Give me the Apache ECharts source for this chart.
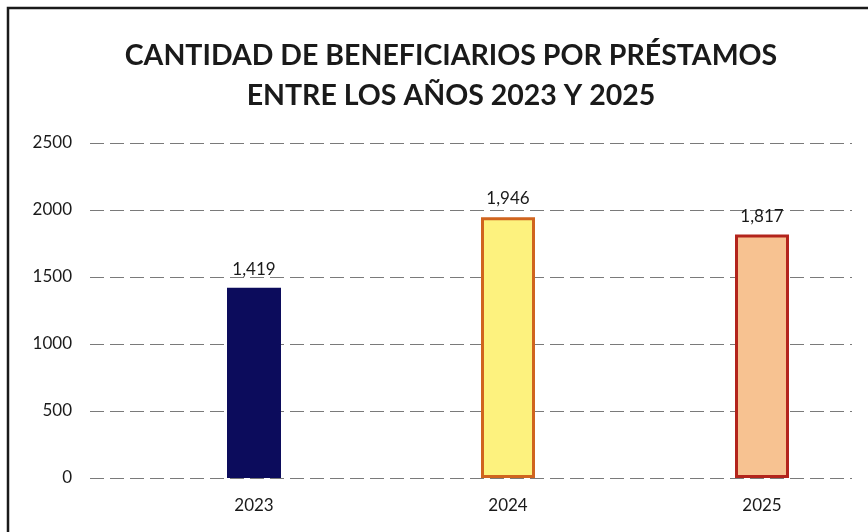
<!DOCTYPE html>
<html>
<head>
<meta charset="utf-8">
<style>
  html, body { margin: 0; padding: 0; background: #fff; }
  #chart { width: 868px; height: 532px; }
</style>
<script src="https://cdn.jsdelivr.net/npm/echarts@6/dist/echarts.min.js"></script>
</head>
<body>
<div id="chart"></div>
<script>
// datos
const years = ['2023', '2024', '2025']
const beneficiarios = [1419, 1946, 1817]
const yTicks = [0, 500, 1000, 1500, 2000, 2500]

const barFill = ['#0c0c5c', '#fdf27e', '#f7c291']
const barBorder = ['#0c0c5c', '#d0641e', '#b3241c']

const chart = echarts.init(document.getElementById('chart'))
const font = 'Lato, "Open Sans", sans-serif'

chart.setOption({
  backgroundColor: '#fff',
  animation: false,
  title: {
    text: 'CANTIDAD DE BENEFICIARIOS POR PRÉSTAMOS\nENTRE LOS AÑOS 2023 Y 2025',
    left: 446,
    textAlign: 'center',
    top: 31,
    textStyle: {
      color: '#1a1a1a',
      fontFamily: font,
      fontWeight: 'bold',
      fontSize: 28.5,
      lineHeight: 40
    }
  },
  graphic: [{
    type: 'rect',
    shape: { x: 8, y: 8, width: 900, height: 600 },
    style: { fill: 'none', stroke: '#1a1a1a', lineWidth: 2.5 },
    silent: true
  }],
  grid: [
    { left: 90, right: 16, top: 143, bottom: 54 },
    // las barras van algo corridas a la derecha en el original
    { left: 254, right: 106, top: 143, bottom: 54 }
  ],
  xAxis: [
    {
      gridIndex: 0,
      type: 'category',
      data: years,
      show: false
    },
    {
      gridIndex: 1,
      type: 'category',
      data: years,
      boundaryGap: false,
      axisLine: { show: false },
      axisTick: { show: false },
      splitLine: { show: false },
      axisLabel: {
        color: '#1a1a1a',
        fontFamily: font,
        fontSize: 17,
        margin: 19
      }
    }
  ],
  yAxis: [
    {
      gridIndex: 0,
      type: 'value',
      min: yTicks[0],
      max: yTicks[yTicks.length - 1],
      interval: 500,
      axisLine: { show: false },
      axisTick: { show: false },
      axisLabel: {
        color: '#1a1a1a',
        fontFamily: font,
        fontSize: 17,
        margin: 18,
        formatter: v => String(v)
      },
      splitLine: {
        lineStyle: { color: '#7a7a7a', type: [14, 6], width: 1.2 }
      }
    },
    {
      gridIndex: 1,
      type: 'value',
      min: yTicks[0],
      max: yTicks[yTicks.length - 1],
      interval: 500,
      show: false,
      splitLine: { show: false }
    }
  ],
  series: [{
    type: 'bar',
    xAxisIndex: 1,
    yAxisIndex: 1,
    clip: false,
    barWidth: 54,
    data: beneficiarios.map((v, i) => ({
      value: v,
      itemStyle: {
        color: barFill[i],
        borderColor: barBorder[i],
        borderWidth: i === 0 ? 0 : 3
      }
    })),
    label: {
      show: true,
      position: 'top',
      distance: 10,
      color: '#1a1a1a',
      fontFamily: font,
      fontSize: 17,
      formatter: p => p.value.toLocaleString('en-US')
    }
  }]
})
</script>
</body>
</html>
